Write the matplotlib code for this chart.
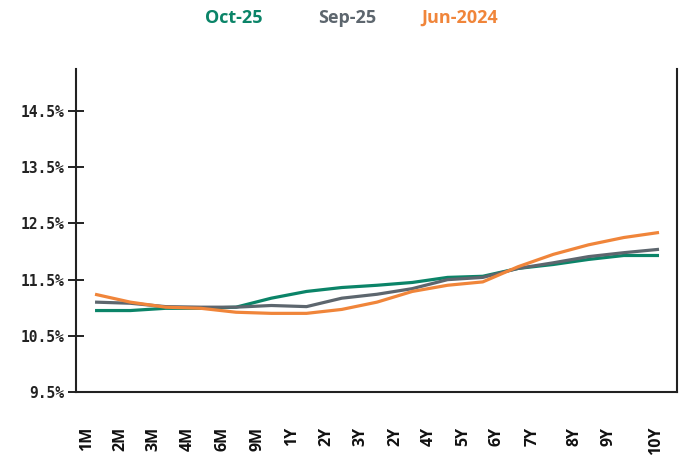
import matplotlib.pyplot as plt
import numpy as np

tenors = ["1M", "2M", "3M", "4M", "6M", "9M", "1Y", "2Y", "3Y", "2Y",
          "4Y", "5Y", "6Y", "7Y", "8Y", "9Y", "10Y"]

oct_25 = [10.95, 10.95, 10.99, 10.99, 11.01, 11.17, 11.29, 11.36, 11.40,
          11.45, 11.54, 11.56, 11.70, 11.77, 11.86, 11.93, 11.93]
sep_25 = [11.10, 11.08, 11.02, 11.01, 11.01, 11.04, 11.02, 11.17, 11.24,
          11.34, 11.50, 11.54, 11.70, 11.80, 11.91, 11.98, 12.04]
jun_2024 = [11.24, 11.10, 11.01, 10.99, 10.92, 10.90, 10.90, 10.97, 11.10,
            11.29, 11.40, 11.46, 11.73, 11.95, 12.12, 12.25, 12.34]

y_ticks = [9.5, 10.5, 11.5, 12.5, 13.5, 14.5]

series = [
    ("Oct-25", oct_25, "#0b8468"),
    ("Sep-25", sep_25, "#5d666e"),
    ("Jun-2024", jun_2024, "#f0853a"),
]

# label centres sit a little left of the data points in the original
label_x = [-0.23, 0.71, 1.67, 2.64, 3.63, 4.62, 5.59, 6.55, 7.52, 8.51,
           9.48, 10.44, 11.40, 12.40, 13.59, 14.58, 15.91]

fig = plt.figure(figsize=(6.89, 4.59), dpi=100)
ax = fig.add_axes([76 / 689, 67 / 459, 601 / 689, 323 / 459])

x = np.arange(len(tenors))
for name, vals, color in series:
    ax.plot(x, vals, color=color, linewidth=2.3, solid_capstyle="butt")

ax.set_xlim(-0.54, 16.51)
ax.set_ylim(9.5, 15.25)

ax.set_yticks(y_ticks)
ax.set_yticklabels([f"{v:.1f}%" for v in y_ticks], family="DejaVu Sans Mono",
                   fontweight="bold", fontsize=10.5, color="#222222")
ax.tick_params(axis="y", direction="inout", length=11, width=1.4,
               color="#222222", pad=3)

ax.set_xticks(label_x)
ax.set_xticklabels(tenors, rotation=90, family="Open Sans", fontweight="bold",
                   fontsize=11.5, color="#111111")
ax.tick_params(axis="x", length=0, pad=25)

ax.spines["top"].set_visible(False)
for side in ["left", "right", "bottom"]:
    ax.spines[side].set_linewidth(1.5)
    ax.spines[side].set_color("#222222")

legend_x = [234, 347, 460]
for (name, vals, color), lx in zip(series, legend_x):
    fig.text(lx / 689, 1 - 18 / 459, name, color=color, fontsize=13,
             fontweight="bold", family="Open Sans", ha="center", va="center")

fig.savefig("out.png", dpi=100)
